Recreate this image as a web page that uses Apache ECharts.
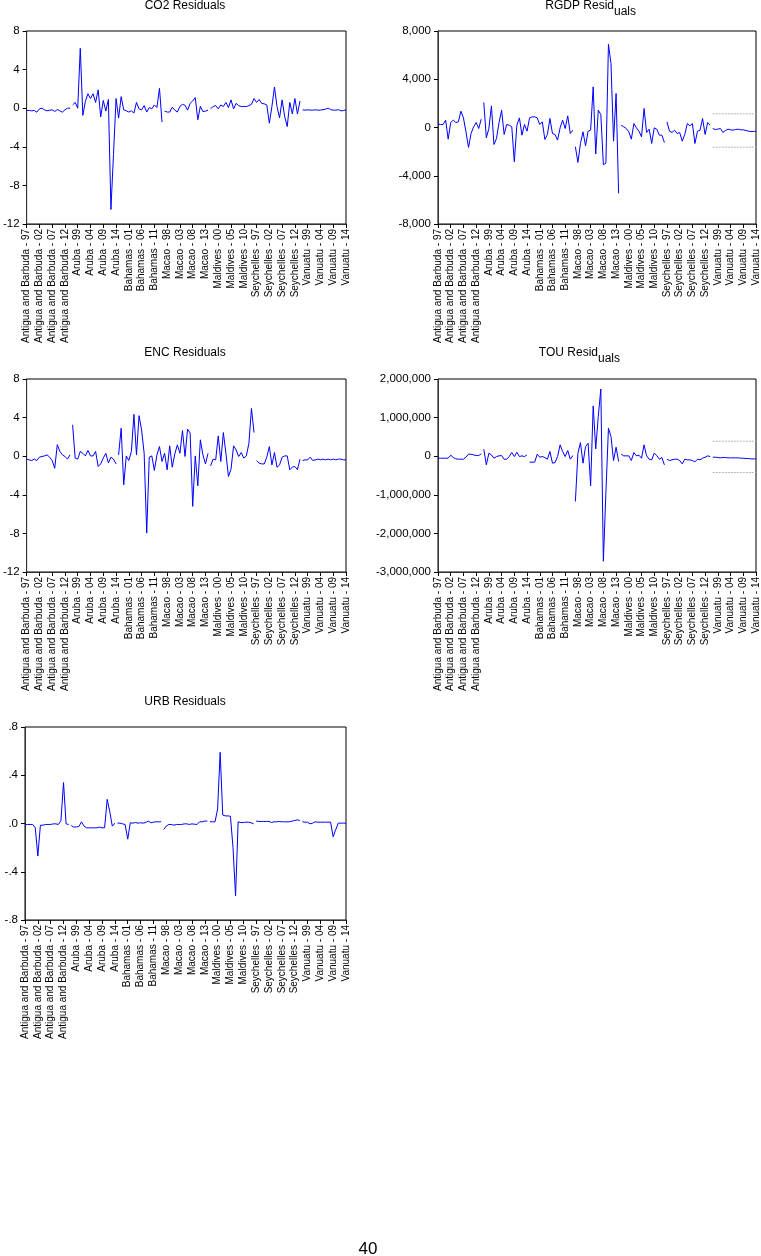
<!DOCTYPE html>
<html><head><meta charset="utf-8">
<script src="https://cdn.jsdelivr.net/npm/echarts@6.0.0/dist/echarts.min.js"></script>
<style>html,body{margin:0;padding:0;background:#fff}#c{width:761px;height:1256px}</style>
</head><body><div id="c"></div>
<script>
// ---------- DATA ----------
const countries = ['Antigua and Barbuda','Aruba','Bahamas','Macao','Maldives','Seychelles','Vanuatu'];
const years = ['97','98','99','00','01','02','03','04','05','06','07','08','09','10','11','12','13','14'];

const co2 = [
 -0.24,-0.24,-0.27,-0.24,-0.41,-0.07,0,-0.17,-0.27,-0.21,-0.17,-0.34,-0.14,-0.27,-0.41,-0.17,0,0,
 0.35,0.6,0.0,6.2,-0.75,0.7,1.5,1.0,1.5,0.6,1.9,-0.9,0.8,-0.3,0.9,-10.5,-4.8,1.0,
 -1.03,1.2,-0.17,-0.27,-0.4,-0.27,-0.5,0.6,-0.07,-0.17,0.27,-0.4,0.07,-0.07,0.34,0.07,2.06,-1.44,
 -0.3,-0.4,-0.4,0.1,-0.2,-0.4,0.2,0.4,0.3,-0.2,0.5,0.75,1.1,-1.2,0.2,-0.35,-0.3,-0.2,
 -0.07,0.17,0.27,-0.07,0.34,0.17,0.6,0.07,0.86,-0.07,0.5,0.27,0.17,0.17,0.17,0.27,0.4,1.0,
 0.6,0.9,0.5,0.45,0.34,-1.55,0.17,2.2,0.17,-1.0,0.86,-0.86,-1.9,0.6,-0.6,1.0,-0.6,0.75,
 -0.17,-0.2,-0.17,-0.2,-0.2,-0.17,-0.2,-0.2,-0.15,-0.1,0.0,-0.15,-0.2,-0.2,-0.15,-0.27,-0.25,-0.17
];
const rgdp = [
 276,248,250,607,-966,414,607,414,469,1352,800,-359,-1656,-497,55,414,-83,690,
 2070,-856,-83,1794,-1408,-911,414,1435,-580,248,193,55,-2843,193,800,-635,248,-304,
 800,883,883,800,248,469,-994,-580,745,-497,-580,-1049,-28,607,-83,966,-497,-221,
 -1600,-2898,-1325,-359,-1518,-304,-221,3367,-2200,1435,1076,-3090,-2950,6900,5300,-1130,2815,-5460,
 193,55,-83,-359,-966,331,-28,-304,-773,1573,-414,-138,-1325,-28,-138,-635,-635,-1242,
 469,-304,-414,-221,-497,-414,-1132,-580,331,138,331,-1325,-304,-221,745,-580,414,193,
 -83,-166,-138,-83,-414,-248,-138,-193,-221,-166,-138,-193,-193,-248,-304,-331,-331,-304
];
const enc = [
 -0.3,-0.38,-0.45,-0.3,-0.45,-0.1,-0.03,0.03,0.14,-0.1,-0.45,-1.25,1.2,0.5,0.14,-0.03,-0.3,0.14,
 3.25,-0.2,-0.3,0.5,0.3,0.03,0.6,0.03,0.03,0.5,-1.07,-0.8,-0.2,0.3,-0.7,-0.1,-0.3,-0.8,
 0.14,2.9,-2.97,0.03,-0.45,0.48,4.34,0.14,4.2,2.72,0.31,-7.97,-0.1,0.03,-1.48,0.14,1.0,-0.55,
 0.31,-1.41,1.07,-1.14,0.24,1.17,0.31,2.66,-0.03,2.8,2.4,-5.2,0.03,-3.07,1.7,0.14,-0.8,0.3,
 -1.0,-0.3,-0.38,2.1,-0.55,2.45,0.3,-2.1,-1.35,1.07,0.65,-0.03,0.38,-0.2,0.03,1.35,4.95,2.45,
 -0.45,-0.72,-0.8,-0.8,-0.1,1.0,-0.9,0.38,-1.14,-0.9,-0.1,0.03,0.03,-1.4,-1.14,-1.07,-1.4,-0.3,
 -0.45,-0.38,-0.38,-0.1,-0.45,-0.38,-0.3,-0.38,-0.3,-0.38,-0.3,-0.38,-0.3,-0.38,-0.3,-0.3,-0.38,-0.38
];
const tou = [
 -52000,-52000,-52000,-52000,-52000,26000,-34000,-69000,-78000,-78000,-78000,-26000,52000,52000,34000,17000,17000,60000,
 181000,-224000,78000,34000,-52000,-9000,9000,17000,-78000,-78000,-9000,95000,-9000,103000,-9000,9000,-9000,34000,
 -155000,-155000,-155000,52000,-26000,-9000,-34000,-78000,121000,-181000,-164000,-9000,293000,121000,-9000,147000,-78000,17000,
 -1172000,78000,353000,-181000,250000,336000,-767000,1302000,190000,1030000,1740000,-2720000,-950000,724000,510000,-112000,233000,-138000,
 52000,9000,9000,9000,-112000,95000,9000,26000,-52000,293000,9000,-78000,-95000,78000,17000,-78000,-34000,-224000,
 -78000,-112000,-95000,-78000,-78000,-112000,-198000,-78000,-95000,-95000,-112000,-147000,-78000,-95000,-52000,-26000,9000,-9000,
 -26000,-26000,-34000,-43000,-34000,-34000,-43000,-43000,-43000,-43000,-43000,-52000,-52000,-60000,-60000,-69000,-69000,-69000
];
const urb = [
 -0.008,-0.008,-0.008,-0.008,-0.036,-0.27,-0.014,-0.014,-0.008,-0.008,-0.008,-0.003,-0.003,-0.008,0.025,0.34,-0.003,-0.008,
 -0.017,-0.03,-0.028,-0.025,0.014,-0.022,-0.036,-0.036,-0.036,-0.036,-0.036,-0.03,-0.036,-0.036,0.2,0.1,-0.022,0.003,
 0.003,0.003,-0.003,-0.008,-0.13,0.006,0.003,0.008,0.003,0.006,0.003,0.008,0.02,0.006,0.011,0.014,0.014,0.014,
 -0.05,-0.022,-0.008,-0.008,-0.014,-0.008,-0.008,-0.008,-0.003,-0.003,-0.008,-0.003,-0.006,-0.008,0.014,0.014,0.02,0.02,
 0.014,0.014,0.014,0.12,0.59,0.07,0.063,0.063,0.06,-0.2,-0.6,0.014,0.008,0.008,0.011,0.011,0.006,-0.003,
 0.02,0.017,0.017,0.017,0.017,0.017,0.008,0.014,0.014,0.017,0.014,0.014,0.014,0.014,0.02,0.025,0.03,0.025,
 0.014,0.011,0.011,-0.003,0.003,0.014,0.011,0.011,0.011,0.011,0.011,0.011,-0.11,-0.05,0.003,0.003,0.003,0.003
];
// indices where a new line segment starts (breaks between cross-sections)
const co2Breaks  = [18, 54, 72, 108];
const rgdpBreaks = [18, 54, 72, 90, 108];
const encBreaks  = [18, 36, 72, 90, 108];
const touBreaks  = [18, 36, 54, 72, 90, 108];
const urbBreaks  = [18, 36, 54, 72, 90, 108];
// dotted reference bands over the last cross-section
const bandStart = 108;
const rgdpBand = [1130, -1630];
const touBand  = [388000, -422000];
// y tick settings
const co2Ticks  = {min:-12, max:8, interval:4};
const rgdpTicks = {min:-8000, max:8000, interval:4000};
const encTicks  = {min:-12, max:8, interval:4};
const touTicks  = {min:-3000000, max:2000000, interval:1000000};
const urbTicks  = {min:-0.8, max:0.8, interval:0.4};
const titles = ['CO2 Residuals','RGDP Residuals','ENC Residuals','TOU Residuals','URB Residuals'];
const pageNumber = '40';

// ---------- BUILD ----------
const categories = countries.flatMap(c => years.map(y => c + ' - ' + y));
const FONT = "'Liberation Sans', Arial, sans-serif";
const comma = v => Math.round(v).toLocaleString('en-US');
const intFmt = v => String(Math.round(v));
const decFmt = v => { let s = v.toFixed(1); if (s === '-0.0') s = '0.0'; return s.replace(/^(-?)0\./, '$1.'); };

const panels = [
  {vals: co2,  breaks: co2Breaks,  ticks: co2Ticks,  fmt: intFmt, grid:{left:25, top:31,  width:321, height:193}},
  {vals: rgdp, breaks: rgdpBreaks, ticks: rgdpTicks, fmt: comma,  grid:{left:438, top:31,  width:319, height:193}, band: rgdpBand},
  {vals: enc,  breaks: encBreaks,  ticks: encTicks,  fmt: intFmt, grid:{left:25, top:379, width:321, height:193}},
  {vals: tou,  breaks: touBreaks,  ticks: touTicks,  fmt: comma,  grid:{left:438, top:379, width:319, height:193}, band: touBand},
  {vals: urb,  breaks: urbBreaks,  ticks: urbTicks,  fmt: decFmt, grid:{left:25, top:727, width:321, height:193}}
];

const grids = [], xAxes = [], yAxes = [], series = [];
const every5 = (idx) => idx % 5 === 0;
panels.forEach((p, gi) => {
  grids.push(Object.assign({show:true, borderColor:'#000', borderWidth:1, containLabel:false}, p.grid));
  xAxes.push({
    type:'category', gridIndex:gi, data:categories, boundaryGap:false, position:'bottom',
    axisLine:{show:true, onZero:false, lineStyle:{color:'#333', width:1}},
    axisTick:{show:true, interval:every5, length:4, lineStyle:{color:'#000'}},
    axisLabel:{interval:every5, rotate:90, fontSize:10, color:'#000', margin:5, fontFamily:FONT},
    splitLine:{show:false}
  });
  yAxes.push({
    type:'value', gridIndex:gi, min:p.ticks.min, max:p.ticks.max, interval:p.ticks.interval, position:'left',
    axisLine:{show:true, onZero:false, lineStyle:{color:'#333', width:1}},
    axisTick:{show:true, length:4, lineStyle:{color:'#000'}},
    axisLabel:{fontSize:11.5, color:'#000', margin:7, fontFamily:FONT, formatter:p.fmt},
    splitLine:{show:false}
  });
  const bounds = [0, ...p.breaks, p.vals.length];
  for (let s = 0; s < bounds.length - 1; s++) {
    const a = bounds[s], b = bounds[s+1];
    series.push({
      type:'line', xAxisIndex:gi, yAxisIndex:gi, symbol:'none', silent:true,
      lineStyle:{color:'#0000ff', width:1}, connectNulls:false,
      data: p.vals.map((v, i) => (i >= a && i < b) ? v : null)
    });
  }
  if (p.band) {
    p.band.forEach(bv => {
      series.push({
        type:'line', xAxisIndex:gi, yAxisIndex:gi, symbol:'none', silent:true,
        lineStyle:{color:'#b4b4b4', width:1, type:[2,1]},
        data: p.vals.map((v, i) => i >= bandStart ? bv : null)
      });
    });
  }
});

const tfont = "12px " + FONT;
const graphic = [
  {type:'text', x:185, y:6, style:{text:titles[0], font:tfont, fill:'#000', textAlign:'center', textVerticalAlign:'middle'}},
  {type:'text', x:614, y:6, style:{text:titles[1].slice(0,10), font:tfont, fill:'#000', textAlign:'right', textVerticalAlign:'middle'}},
  {type:'text', x:614, y:12, style:{text:titles[1].slice(10), font:tfont, fill:'#000', textAlign:'left', textVerticalAlign:'middle'}},
  {type:'text', x:185, y:353, style:{text:titles[2], font:tfont, fill:'#000', textAlign:'center', textVerticalAlign:'middle'}},
  {type:'text', x:598, y:353, style:{text:titles[3].slice(0,9), font:tfont, fill:'#000', textAlign:'right', textVerticalAlign:'middle'}},
  {type:'text', x:598, y:359, style:{text:titles[3].slice(9), font:tfont, fill:'#000', textAlign:'left', textVerticalAlign:'middle'}},
  {type:'text', x:185, y:702, style:{text:titles[4], font:tfont, fill:'#000', textAlign:'center', textVerticalAlign:'middle'}},
  {type:'text', x:368, y:1249, style:{text:pageNumber, font:"17px " + FONT, fill:'#000', textAlign:'center', textVerticalAlign:'middle'}}
];

const chart = echarts.init(document.getElementById('c'), null, {renderer:'canvas'});
chart.setOption({
  backgroundColor:'#fff', animation:false,
  textStyle:{fontFamily:FONT},
  grid:grids, xAxis:xAxes, yAxis:yAxes, series:series, graphic:graphic
});
</script></body></html>
